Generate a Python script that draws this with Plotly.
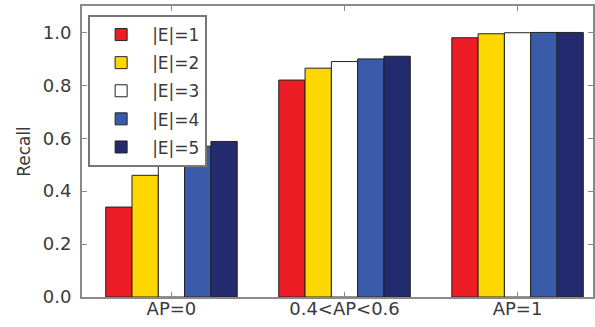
import plotly.graph_objects as go

categories = ["AP=0", "0.4<AP<0.6", "AP=1"]
series_names = ["|E|=1", "|E|=2", "|E|=3", "|E|=4", "|E|=5"]
values = [
    [0.34, 0.82, 0.98],
    [0.46, 0.865, 0.995],
    [0.53, 0.89, 0.999],
    [0.57, 0.90, 1.0],
    [0.588, 0.91, 1.0],
]
colors = ["#EC1C24", "#FFD700", "#FFFFFF", "#3A5BAA", "#232A6E"]
yticks = [0.0, 0.2, 0.4, 0.6, 0.8, 1.0]

fig = go.Figure()
xpos = list(range(len(categories)))
for name, vals, col in zip(series_names, values, colors):
    fig.add_trace(go.Bar(
        x=xpos, y=vals, name=name, legendgroup=name,
        marker=dict(color=col, line=dict(color="#222222", width=1)),
    ))

axis_common = dict(showline=True, linecolor="#8a8a8a", linewidth=2, mirror="ticks",
                   ticks="inside", tickcolor="#8a8a8a", ticklen=5, tickwidth=1,
                   showgrid=False, zeroline=False, automargin=False,
                   tickfont=dict(family="DejaVu Sans", size=18, color="#3a3a3a"))

fig.update_layout(
    width=595, height=327,
    margin=dict(l=82, r=2, t=6, b=30),
    paper_bgcolor="white", plot_bgcolor="white",
    barmode="group", bargap=0.24, bargroupgap=0,
    font=dict(family="DejaVu Sans", color="#3a3a3a"),
    xaxis=dict(range=[-0.517, 2.436], tickmode="array", tickvals=xpos,
               ticktext=categories, ticklabelstandoff=-6, **axis_common),
    yaxis=dict(range=[0, 1.1], tickmode="array", tickvals=yticks,
               ticktext=[f"{v:.1f}" for v in yticks], ticklabelstandoff=5,
               title=dict(text="Recall", font=dict(size=17, color="#3a3a3a"), standoff=8),
               **axis_common),
    legend=dict(x=0.012, y=0.969, xanchor="left", yanchor="top",
                bgcolor="white", bordercolor="#777777", borderwidth=2,
                font=dict(family="DejaVu Sans", size=17, color="#3a3a3a"),
                itemwidth=52, tracegroupgap=3),
    showlegend=True,
)

fig.write_html("out.html", config={"displayModeBar": False},
               post_script="document.body.style.margin='0';")
